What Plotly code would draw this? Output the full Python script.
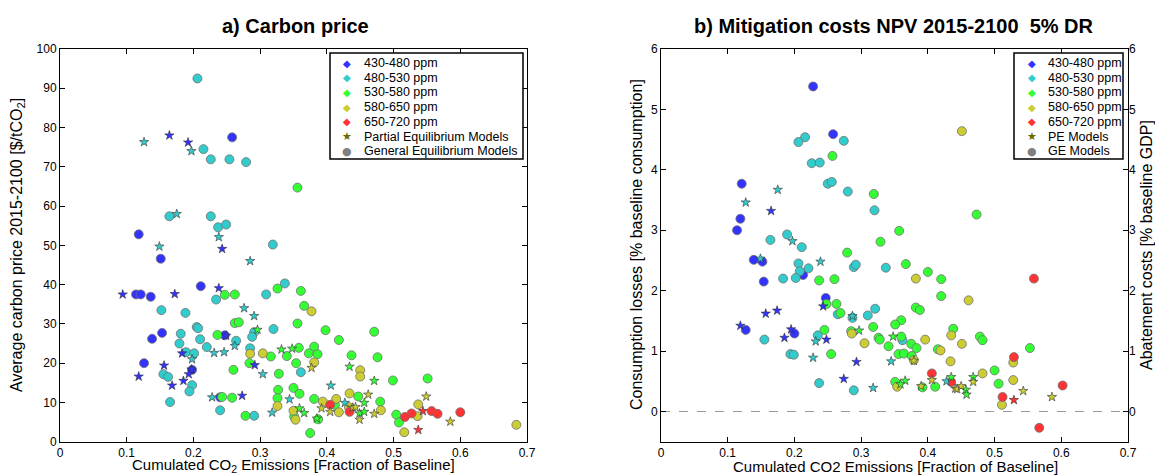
import plotly.graph_objects as go

CLASS_NAMES = ["430-480 ppm", "480-530 ppm", "530-580 ppm", "580-650 ppm", "650-720 ppm"]
CLASS_COLORS = ["#3333ff", "#33cccc", "#33ff33", "#cccc33", "#ff3333"]
CLASS_KEYS = ["B", "C", "G", "Y", "R"]

# ---- panel a) carbon price: x, y, concentration class, model type (s = PE star, c = GE circle)
CP_X = [0.206, 0.164, 0.126, 0.258, 0.192, 0.197, 0.215, 0.226, 0.254, 0.279,
        0.356, 0.164, 0.175, 0.226, 0.237, 0.249, 0.238, 0.118, 0.149, 0.243,
        0.151, 0.285, 0.319, 0.337, 0.211, 0.238, 0.094, 0.114, 0.121, 0.136,
        0.172, 0.234, 0.247, 0.262, 0.309, 0.326, 0.361, 0.152, 0.188, 0.366,
        0.377, 0.276, 0.291, 0.356, 0.262, 0.268, 0.205, 0.207, 0.138, 0.153,
        0.181, 0.210, 0.320, 0.291, 0.296, 0.288, 0.236, 0.247, 0.249, 0.264,
        0.398, 0.471, 0.418, 0.179, 0.220, 0.262, 0.285, 0.332, 0.348, 0.358,
        0.381, 0.183, 0.189, 0.201, 0.198, 0.231, 0.246, 0.285, 0.304, 0.316,
        0.340, 0.373, 0.386, 0.437, 0.476, 0.381, 0.377, 0.284, 0.292, 0.354,
        0.198, 0.156, 0.197, 0.193, 0.155, 0.162, 0.118, 0.126, 0.361, 0.260,
        0.304, 0.328, 0.434, 0.450, 0.450, 0.499, 0.471, 0.551, 0.185, 0.168,
        0.198, 0.194, 0.406, 0.350, 0.327, 0.434, 0.359, 0.462, 0.549, 0.228,
        0.240, 0.243, 0.258, 0.273, 0.326, 0.381, 0.414, 0.447, 0.344, 0.165,
        0.394, 0.480, 0.456, 0.427, 0.405, 0.412, 0.537, 0.326, 0.433, 0.439,
        0.443, 0.359, 0.392, 0.240, 0.481, 0.544, 0.557, 0.527, 0.566, 0.600,
        0.434, 0.405, 0.418, 0.449, 0.456, 0.471, 0.318, 0.366, 0.278, 0.291,
        0.504, 0.517, 0.536, 0.350, 0.351, 0.353, 0.449, 0.387, 0.385, 0.585,
        0.508, 0.684, 0.537, 0.375, 0.516]
CP_Y = [92.5, 78.0, 76.3, 77.5, 76.2, 74.0, 74.5, 71.9, 71.9, 71.2,
        64.7, 57.4, 58.0, 57.4, 54.6, 55.3, 52.1, 52.8, 49.7, 49.1,
        46.6, 46.0, 50.2, 40.3, 39.6, 39.1, 37.5, 37.5, 37.5, 36.9,
        37.6, 36.2, 37.4, 37.5, 37.5, 39.0, 38.4, 33.5, 32.8, 34.6,
        33.2, 34.0, 32.0, 30.1, 30.2, 30.4, 29.2, 28.9, 26.2, 27.7,
        27.5, 26.1, 28.7, 27.9, 28.5, 26.7, 27.2, 27.1, 27.0, 25.7,
        28.4, 28.0, 25.9, 25.0, 24.1, 24.4, 23.8, 23.5, 23.7, 23.9,
        24.2, 22.5, 22.8, 22.5, 21.0, 22.6, 22.8, 22.4, 22.5, 21.7,
        21.8, 22.5, 22.3, 22.0, 21.5, 20.2, 18.8, 20.0, 19.5, 20.0,
        18.3, 19.4, 18.4, 17.2, 17.2, 16.5, 16.6, 20.0, 17.7, 18.3,
        17.2, 17.3, 19.1, 18.2, 16.6, 15.6, 15.5, 16.1, 15.5, 14.3,
        14.4, 12.8, 14.3, 13.7, 13.2, 12.3, 12.2, 12.0, 11.5, 11.3,
        11.3, 11.4, 11.2, 11.7, 11.1, 10.9, 10.9, 11.5, 10.8, 10.1,
        10.2, 10.2, 9.9, 9.9, 9.4, 9.4, 9.5, 9.1, 8.8, 8.7,
        8.8, 8.5, 8.5, 8.0, 8.0, 7.8, 7.8, 7.2, 7.1, 7.5,
        7.6, 7.6, 7.5, 7.2, 7.6, 7.1, 7.4, 7.3, 6.6, 6.6,
        6.9, 6.3, 6.5, 7.9, 6.4, 5.6, 5.6, 5.7, 5.9, 5.1,
        4.9, 4.3, 3.0, 2.2, 2.4]
CP_CLASS = list("CBCBBCCCCC" "GCCCCCCBCB" "BCCCBBBBBB" "BCGGCGGCCG"
                "YCCGGGCCBB" "CCCCGCGBBC" "GGGCCCCGGG" "GBCCCCCYYG"
                "GGGGGYYGBG" "BBBBCCBBCG" "CGGYYGGGBB" "CCCGGYGYYC"
                "BGGBGGYGCC" "YGGCRGYYYY" "YGYCYRRRRR" "RYYGGYCGGC"
                "GRYYGYYGGY" "GYRGY")
CP_MODEL = list("csscsscccc" "ccscccscss" "cscccssccc" "sccccccccc"
                "cssccccccc" "ccccscccsc" "cccccscssc" "csccsssccc"
                "ccccccscsc" "csssccsccc" "scscccscss" "ccsccccsss"
                "cccsccccsc" "ccsscccccs" "sssccscccc" "cscssssscc"
                "ccccccscss" "ccscc")

# ---- panel b) mitigation costs
MC_X = [0.228, 0.451, 0.258, 0.216, 0.206, 0.274, 0.257, 0.226, 0.238, 0.250,
        0.256, 0.280, 0.121, 0.175, 0.127, 0.165, 0.319, 0.320, 0.473, 0.119,
        0.114, 0.357, 0.189, 0.164, 0.197, 0.329, 0.211, 0.279, 0.139, 0.149,
        0.152, 0.206, 0.239, 0.289, 0.292, 0.367, 0.221, 0.208, 0.337, 0.400,
        0.213, 0.183, 0.202, 0.237, 0.260, 0.382, 0.420, 0.559, 0.154, 0.420,
        0.247, 0.248, 0.243, 0.263, 0.461, 0.321, 0.382, 0.388, 0.157, 0.174,
        0.265, 0.269, 0.310, 0.287, 0.287, 0.360, 0.351, 0.119, 0.127, 0.438,
        0.155, 0.195, 0.200, 0.185, 0.232, 0.248, 0.235, 0.245, 0.286, 0.285,
        0.297, 0.318, 0.326, 0.328, 0.348, 0.360, 0.362, 0.305, 0.341, 0.375,
        0.396, 0.383, 0.435, 0.478, 0.482, 0.451, 0.415, 0.419, 0.553, 0.194,
        0.199, 0.228, 0.255, 0.356, 0.364, 0.376, 0.379, 0.379, 0.345, 0.293,
        0.434, 0.529, 0.528, 0.406, 0.500, 0.482, 0.274, 0.435, 0.406, 0.435,
        0.237, 0.351, 0.354, 0.366, 0.359, 0.392, 0.390, 0.411, 0.528, 0.506,
        0.468, 0.468, 0.318, 0.428, 0.441, 0.444, 0.450, 0.457, 0.458, 0.543,
        0.289, 0.586, 0.512, 0.529, 0.511, 0.602, 0.567]
MC_Y = [5.38, 4.64, 4.59, 4.54, 4.46, 4.48, 4.23, 4.11, 4.12, 3.77,
        3.80, 3.64, 3.77, 3.67, 3.46, 3.32, 3.60, 3.33, 3.26, 3.19,
        3.00, 2.99, 2.93, 2.84, 2.82, 2.81, 2.72, 2.63, 2.51, 2.53,
        2.48, 2.45, 2.48, 2.39, 2.43, 2.44, 2.37, 2.32, 2.38, 2.31,
        2.26, 2.20, 2.21, 2.17, 2.19, 2.20, 2.19, 2.20, 2.15, 1.91,
        1.88, 1.78, 1.74, 1.78, 1.84, 1.70, 1.72, 1.68, 1.62, 1.67,
        1.61, 1.63, 1.59, 1.58, 1.55, 1.51, 1.44, 1.42, 1.35, 1.37,
        1.19, 1.36, 1.29, 1.22, 1.16, 1.19, 1.26, 1.35, 1.29, 1.33,
        1.34, 1.40, 1.22, 1.19, 1.24, 1.24, 1.18, 1.13, 1.08, 1.12,
        1.19, 1.05, 1.26, 1.24, 1.18, 1.12, 1.03, 1.01, 1.05, 0.95,
        0.94, 0.89, 0.95, 0.95, 0.96, 0.92, 0.85, 0.84, 0.83, 0.82,
        0.83, 0.90, 0.81, 0.63, 0.68, 0.63, 0.54, 0.49, 0.52, 0.57,
        0.47, 0.49, 0.41, 0.51, 0.45, 0.40, 0.42, 0.41, 0.52, 0.46,
        0.57, 0.49, 0.39, 0.50, 0.38, 0.37, 0.42, 0.36, 0.28, 0.34,
        0.35, 0.24, 0.24, 0.19, 0.11, 0.43, -0.27]
MC_CLASS = list("BYBCCCGCCC" "CCBCCBGCGB" "BGCCCGCGBC" "BCCCCGCCCG"
                "BCCGGYGRBG" "BGBGYCGGBB" "CGCCCGGBBG" "CBBBCBCGYG"
                "GGGGGGCYGG" "YGYGGYGYGC" "CCGGGGYYCB" "YRYRGYBRYG"
                "CGYGGGYGYG" "GYCCYYYGGY" "CYRRYRR")
MC_MODEL = list("cccccccccc" "cccssscccc" "ccccsccccs" "ccsccccccc"
                "cccccccccc" "ccscccccss" "cccscccscc" "cscssscccc"
                "scccsccccc" "cccccccccc" "cscccccsss" "ccccccscss"
                "cccsscsccc" "ssssssssss" "cscsccc")

# legend labels
LEGEND_A = CLASS_NAMES + ["Partial Equilibrium Models", "General Equilibrium Models"]
LEGEND_B = CLASS_NAMES + ["PE Models", "GE Models"]
LEGEND_GLYPHS = ["◆"] * 5 + ["★", "●"]
LEGEND_COLORS = CLASS_COLORS + ["#6b6b00", "#808080"]

PANELS = [
    dict(x=CP_X, y=CP_Y, cls=CP_CLASS, model=CP_MODEL, xa="x", ya="y"),
    dict(x=MC_X, y=MC_Y, cls=MC_CLASS, model=MC_MODEL, xa="x2", ya="y2"),
]

FONT = "Liberation Sans, Arial, sans-serif"
fig = go.Figure()

for p in PANELS:
    for mtype in ["c", "s"]:
        for k, key in enumerate(CLASS_KEYS):
            idx = [i for i in range(len(p["x"])) if p["cls"][i] == key and p["model"][i] == mtype]
            if not idx:
                continue
            if mtype == "c":
                marker = dict(symbol="circle", size=9, color=CLASS_COLORS[k],
                              line=dict(color="#707070", width=0.8))
            else:
                marker = dict(symbol="star", size=7, color=CLASS_COLORS[k],
                              line=dict(color="#333333", width=0.6))
            fig.add_trace(go.Scatter(
                x=[p["x"][i] for i in idx], y=[p["y"][i] for i in idx],
                mode="markers", marker=marker, xaxis=p["xa"], yaxis=p["ya"],
                showlegend=False, hoverinfo="x+y"))

# dummy trace so the right-hand axis of panel b renders
fig.add_trace(go.Scatter(x=[None], y=[None], xaxis="x2", yaxis="y3", showlegend=False))

W, H = 1155, 475
def px(v): return v / W
def py(v): return 1 - v / H

TICKFONT = dict(family=FONT, size=12, color="black")
axis_common = dict(showline=True, linecolor="black", linewidth=1, mirror="ticks",
                   ticks="inside", ticklen=5, tickcolor="black", showgrid=False,
                   zeroline=False, automargin=False, tickfont=TICKFONT)

shapes = [dict(type="line", xref="x2", yref="y2", x0=0, x1=0.7, y0=0, y1=0,
               line=dict(color="#999999", width=1, dash="dash"), layer="below")]

annotations = []
ann = [
    ("<b>a) Carbon price</b>", 295, 26, 0, 20),
    ("<b>b) Mitigation costs NPV 2015-2100  5% DR</b>", 894, 26, 0, 20),
    ("Cumulated CO<sub>2</sub> Emissions [Fraction of Baseline]", 294, 465, 0, 15),
    ("Cumulated CO2 Emissions [Fraction of Baseline]", 895, 466, 0, 15),
    ("Average carbon price 2015-2100 [$/tCO<sub>2</sub>]", 17, 245, -90, 16),
    ("Consumption losses [% baseline consumption]", 636, 245, -90, 16),
    ("Abatement costs [% baseline GDP]", 1146, 245, -90, 16),
]
for t, x, y, a, s in ann:
    annotations.append(dict(text=t.replace("  ", "&nbsp; "), x=px(x), y=py(y), textangle=a,
                            xref="paper", yref="paper", showarrow=False,
                            xanchor="center", yanchor="middle",
                            font=dict(family=FONT, color="black", size=s)))

# hand-built legends (box, glyph, label)
for labels, box_x0, box_x1, glyph_x, text_x in [(LEGEND_A, 330, 523, 347, 362),
                                                (LEGEND_B, 1014, 1123, 1032, 1046)]:
    shapes.append(dict(type="rect", xref="paper", yref="paper",
                       x0=px(box_x0), x1=px(box_x1), y0=py(159), y1=py(53),
                       line=dict(color="black", width=1.5), fillcolor="white", layer="above"))
    for i, (lab, g, c) in enumerate(zip(labels, LEGEND_GLYPHS, LEGEND_COLORS)):
        yy = 63 + i * 14.7
        annotations.append(dict(text=g, x=px(glyph_x), y=py(yy), xref="paper", yref="paper",
                                showarrow=False, xanchor="center", yanchor="middle",
                                font=dict(family="DejaVu Sans", color=c,
                                          size=10 if g == "◆" else 11)))
        annotations.append(dict(text=lab, x=px(text_x), y=py(yy), xref="paper", yref="paper",
                                showarrow=False, xanchor="left", yanchor="middle",
                                font=dict(family=FONT, color="black", size=12.5)))

fig.update_layout(
    width=W, height=H, margin=dict(l=0, r=0, t=0, b=0),
    paper_bgcolor="white", plot_bgcolor="white",
    font=dict(family=FONT, color="black"),
    showlegend=False,
    xaxis=dict(domain=[px(60), px(527)], range=[0, 0.7], dtick=0.1, anchor="y", **axis_common),
    yaxis=dict(domain=[py(441.7), py(49)], range=[0, 100], dtick=10, anchor="x", **axis_common),
    xaxis2=dict(domain=[px(661), px(1128)], range=[0, 0.7], dtick=0.1, anchor="y2", **axis_common),
    yaxis2=dict(domain=[py(441.7), py(49)], range=[-0.5, 6], tickvals=[0, 1, 2, 3, 4, 5, 6],
                anchor="x2", **axis_common),
    yaxis3=dict(range=[-0.5, 6], tickvals=[0, 1, 2, 3, 4, 5, 6], overlaying="y2",
                side="right", anchor="x2", showline=False, ticks="", showgrid=False,
                zeroline=False, automargin=False, tickfont=TICKFONT),
    shapes=shapes,
    annotations=annotations,
)

fig.write_html("out.html")
